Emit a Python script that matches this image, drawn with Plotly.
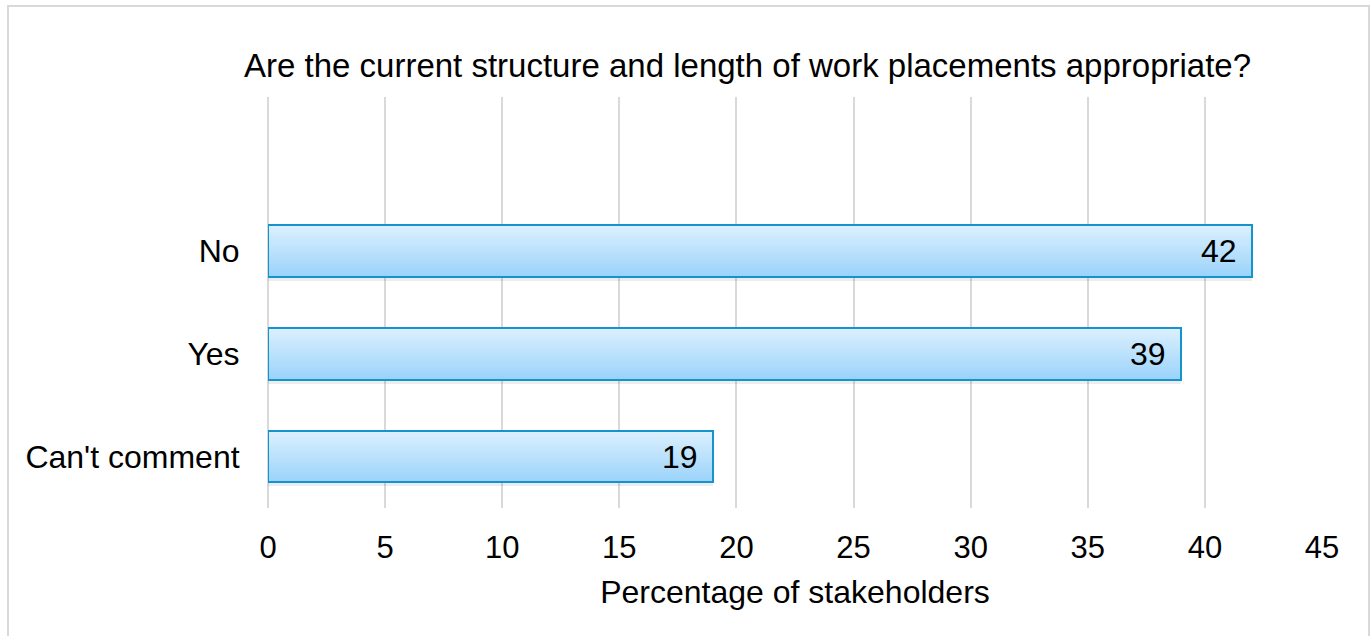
import plotly.graph_objects as go

categories = ["Can't comment", "Yes", "No"]
values = [19, 39, 42]
x_ticks = [0, 5, 10, 15, 20, 25, 30, 35, 40, 45]
title_text = "Are the current structure and length of work placements appropriate?"
x_title = "Percentage of stakeholders"

FONT = "Arial, Liberation Sans, sans-serif"
W, H = 1372, 636
L, R, T, B = 268, 50, 97, 128
pw, ph = W - L - R, H - T - B

fig = go.Figure()

# shadow
fig.add_trace(go.Bar(
    y=categories, x=values, orientation="h", width=0.5, offset=-0.29,
    marker=dict(color="rgba(0,0,0,0.07)", line=dict(width=0)),
    hoverinfo="skip", showlegend=False))

# gradient strips
N = 24
top = (0xdc, 0xf0, 0xfe)
bot = (0x9a, 0xd3, 0xfa)
bw = 0.5
for i in range(N):
    t = (i + 0.5) / N
    c = tuple(round(bot[k] + (top[k] - bot[k]) * t) for k in range(3))
    fig.add_trace(go.Bar(
        y=categories, x=values, orientation="h",
        width=bw / N + 0.002, offset=-bw / 2 + i * bw / N,
        marker=dict(color="rgb(%d,%d,%d)" % c, line=dict(width=0)),
        hoverinfo="skip", showlegend=False))

# outline
fig.add_trace(go.Bar(
    y=categories, x=values, orientation="h", width=bw, offset=-bw / 2,
    marker=dict(color="rgba(0,0,0,0)", line=dict(color="#1593cc", width=2)),
    showlegend=False))

for c, v in zip(categories, values):
    fig.add_annotation(x=v, y=c, text=str(v), showarrow=False,
                       xanchor="right", yanchor="middle", xshift=-13,
                       font=dict(size=32, color="#000000", family=FONT))

fig.add_annotation(text=title_text, xref="paper", yref="paper",
                   x=(747 - L) / pw, y=(H - B - 65) / ph,
                   xanchor="center", yanchor="middle", showarrow=False,
                   font=dict(size=33, color="#000000", family=FONT))

fig.add_shape(type="rect", xref="paper", yref="paper",
              x0=(8 - L) / pw, x1=(1369 - L) / pw,
              y0=(H - B - 645) / ph, y1=(H - B - 6) / ph,
              line=dict(color="#d9d9d9", width=2), fillcolor="rgba(0,0,0,0)",
              layer="below")

fig.update_layout(
    width=W, height=H,
    margin=dict(l=L, r=R, t=T, b=B, pad=0),
    paper_bgcolor="white", plot_bgcolor="white",
    barmode="overlay", bargap=0,
    font=dict(family=FONT, size=32, color="#000000"),
    xaxis=dict(range=[0, 45], tickvals=x_ticks, showgrid=True,
               gridcolor="#d9d9d9", gridwidth=2, zeroline=True,
               zerolinecolor="#d9d9d9", zerolinewidth=2, showline=False,
               ticks="outside", ticklen=12, tickcolor="rgba(0,0,0,0)",
               tickfont=dict(size=31),
               title=dict(text=x_title, font=dict(size=32), standoff=16),
               fixedrange=True),
    yaxis=dict(type="category", categoryorder="array", categoryarray=categories,
               range=[-0.5, 3.5], showgrid=False, zeroline=False, showline=False,
               ticks="outside", ticklen=21, tickcolor="rgba(0,0,0,0)",
               tickfont=dict(size=32), fixedrange=True),
)

fig.write_html("out.html", config={"displayModeBar": False},
               post_script="document.body.style.margin='0';document.body.style.overflow='hidden';")
